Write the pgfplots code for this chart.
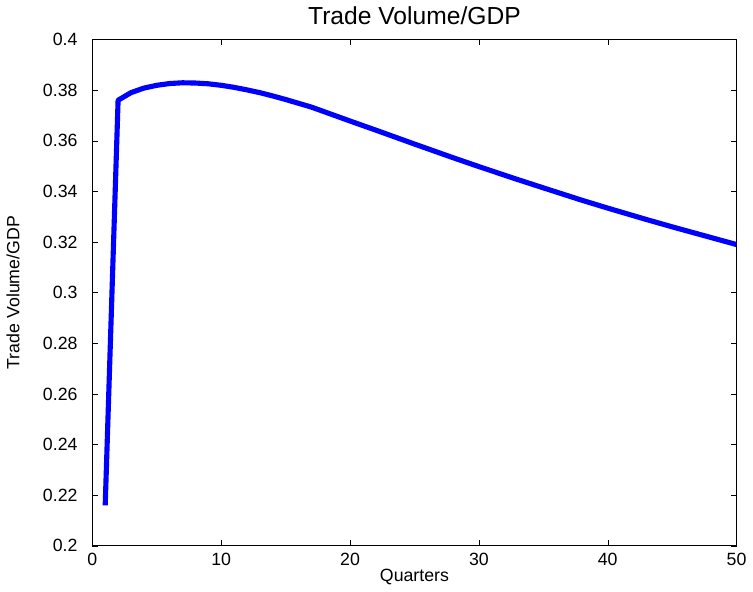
\documentclass[border=0pt]{standalone}
\usepackage{pgfplots}
\pgfplotsset{compat=1.18}
\usepackage{fontspec}
\setmainfont{Liberation Sans}
\begin{document}
\begin{tikzpicture}
\begin{axis}[scale only axis, width=327pt, height=257pt,
 xmin=0, xmax=50, ymin=0.2, ymax=0.4,
 xtick={0,10,...,50}, ytick={0.2,0.22,...,0.401},
 yticklabel style={/pgf/number format/fixed,/pgf/number format/precision=2, xshift=-4pt},
 /pgf/number format/assume math mode=true,
 ticklabel style={font=\fontsize{9}{10}\selectfont},
 label style={font=\fontsize{9}{10}\selectfont},
 title style={font=\fontsize{12.5}{13}\selectfont, yshift=-2pt},
 title={Trade Volume/GDP}, xlabel={Quarters}, ylabel={Trade Volume/GDP},
 xlabel style={yshift=5pt}, ylabel style={yshift=5pt},
 tick align=inside, tick style={black}, major tick length=3pt,
 xtick pos=both, ytick pos=both]
\addplot[blue, line width=2.6pt, line join=round] coordinates {
(1,0.216)(2,0.376)(3,0.3790)(4,0.3808)(5,0.3819)(6,0.3826)(7,0.3829)(8,0.3828)(9,0.3825)(10,0.3819)(11,0.3811)(12,0.3801)(13,0.3790)(14,0.3777)(15,0.3763)(17,0.3733)(20,0.3678)(22,0.3642)(25,0.3587)(28,0.3533)(30,0.3498)(33,0.3447)(35,0.3414)(38,0.3365)(40,0.3334)(43,0.3289)(45,0.3260)(48,0.3218)(50,0.3190)};
\end{axis}
\end{tikzpicture}
\end{document}
